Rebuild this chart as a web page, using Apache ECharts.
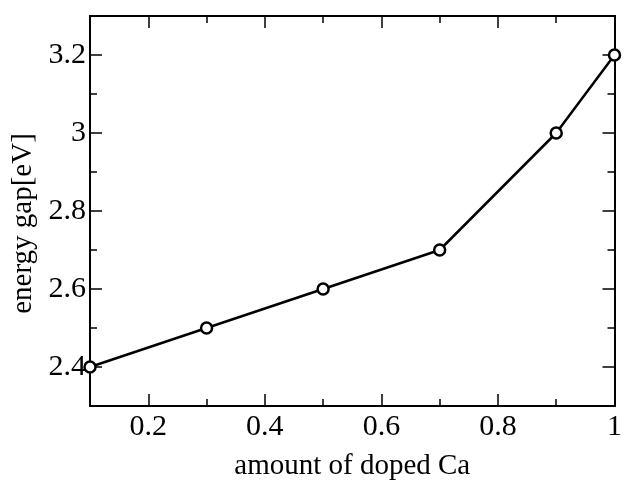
<!DOCTYPE html>
<html><head><meta charset="utf-8">
<script src="https://cdn.jsdelivr.net/npm/echarts@6/dist/echarts.min.js"></script>
<style>html,body{margin:0;padding:0;background:#fff}#c{width:625px;height:486px}</style>
</head><body><div id="c"></div>
<script>
const xValues = [0.1, 0.3, 0.5, 0.7, 0.9, 1.0];
const yValues = [2.4, 2.5, 2.6, 2.7, 3.0, 3.2];
const xMajor = [0.2, 0.4, 0.6, 0.8, 1.0];
const xMinor = [0.3, 0.5, 0.7, 0.9];
const yMajor = [2.4, 2.6, 2.8, 3.0, 3.2];
const yMinor = [2.5, 2.7, 2.9, 3.1];
const xName = 'amount of doped Ca';
const yName = 'energy gap[eV]';

const FONT = 'Liberation Serif';
const fmt = v => String(+(+v).toFixed(1));
const line = {show: true, onZero: false, lineStyle: {color: '#000', width: 2}};

function ax(kind, pos, ticks, len, labels, extra) {
  const o = {
    type: 'value', position: pos,
    min: kind === 'x' ? 0.1 : 2.3, max: kind === 'x' ? 1.0 : 3.3,
    axisLine: line,
    splitLine: {show: false},
    axisTick: {show: true, inside: true, length: len, customValues: ticks, lineStyle: {color: '#000', width: 1.5}},
    axisLabel: labels ? {show: true, customValues: ticks, formatter: fmt, fontFamily: FONT, fontSize: 30, color: '#000', margin: kind === 'x' ? 6 : 4} : {show: false}
  };
  return Object.assign(o, extra || {});
}

const option = {
  animation: false,
  backgroundColor: '#fff',
  grid: {left: 90, right: 5, top: 16, bottom: 77, containLabel: false},
  xAxis: [
    ax('x', 'bottom', xMajor, 12, true, {name: xName, nameLocation: 'middle', nameGap: 46, nameTextStyle: {fontFamily: FONT, fontSize: 29, color: '#000'}}),
    ax('x', 'bottom', xMinor, 7, false),
    ax('x', 'top', xMajor, 12, false),
    ax('x', 'top', xMinor, 7, false)
  ],
  yAxis: [
    ax('y', 'left', yMajor, 12, true, {name: yName, nameLocation: 'middle', nameGap: 47, nameTextStyle: {fontFamily: FONT, fontSize: 29, color: '#000', padding: [0, 25, 0, 0]}}),
    ax('y', 'left', yMinor, 7, false),
    ax('y', 'right', yMajor, 12, false),
    ax('y', 'right', yMinor, 7, false)
  ],
  series: [{
    type: 'line',
    xAxisIndex: 0, yAxisIndex: 0,
    data: xValues.map((x, i) => [x, yValues[i]]),
    symbol: 'circle', symbolSize: 11,
    clip: false,
    lineStyle: {color: '#000', width: 2.5},
    itemStyle: {color: '#fff', borderColor: '#000', borderWidth: 2.5}
  }]
};
echarts.init(document.getElementById('c')).setOption(option);
</script></body></html>
